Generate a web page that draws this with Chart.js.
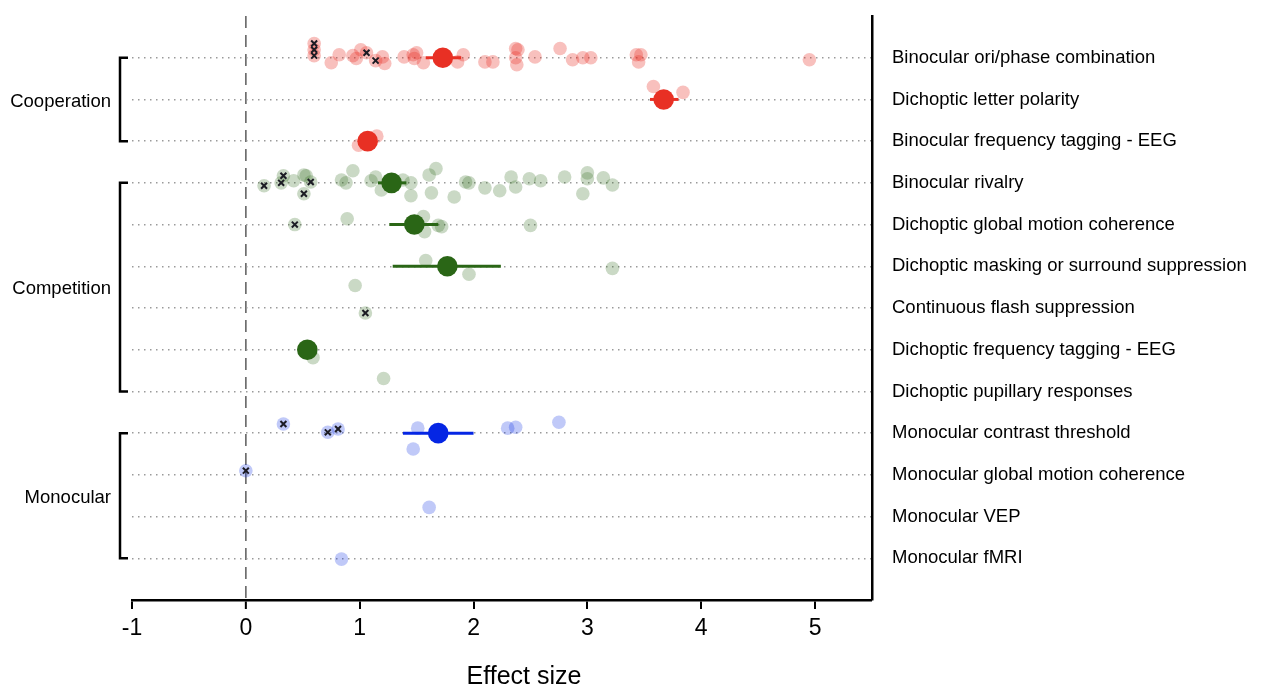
<!DOCTYPE html>
<html><head><meta charset="utf-8">
<script src="https://cdn.jsdelivr.net/npm/chart.js@4"></script>
<style>html,body{margin:0;padding:0;background:#fff}#wrap{width:1261px;height:686px;position:relative}</style>
</head><body><div id="wrap"><canvas id="c" width="1261" height="686"></canvas></div>
<script>
const rowLabels = [
  'Binocular ori/phase combination','Dichoptic letter polarity','Binocular frequency tagging - EEG',
  'Binocular rivalry','Dichoptic global motion coherence','Dichoptic masking or surround suppression',
  'Continuous flash suppression','Dichoptic frequency tagging - EEG','Dichoptic pupillary responses',
  'Monocular contrast threshold','Monocular global motion coherence','Monocular VEP','Monocular fMRI'
];
const groupNames = ['Cooperation','Competition','Monocular'];
const groupFirstRow = [0,3,9];
const groupLastRow = [2,8,12];
const xTicks = [-1,0,1,2,3,4,5];
const axisTitle = 'Effect size';

// Cooperation: individual studies (effect size, row position incl. jitter)
const coopX = [0.75,0.82,0.94,1.01,0.97,1.20,1.22,1.39,1.47,1.50,1.48,1.56,1.91,1.86,2.10,2.17,2.37,2.39,2.37,2.38,2.54,2.76,2.87,2.96,3.03,3.43,3.47,3.45,4.95,3.58,3.84,0.99,1.15];
const coopY = [0.12,-0.07,-0.05,-0.19,0.02,-0.02,0.14,-0.02,-0.07,-0.12,0.02,0.12,-0.07,0.10,0.10,0.10,-0.22,-0.19,0,0.17,-0.02,-0.22,0.05,0,0,-0.07,-0.07,0.10,0.05,0.69,0.83,2.10,1.88];
const coopFlagX = [0.60,0.60,0.60,1.06,1.14];
const coopFlagY = [-0.34,-0.19,-0.05,-0.12,0.07];
const coopMeanX = [1.73,3.67,1.07];
const coopMeanRow = [0,1,2];
const coopLo = [1.58,3.55,null];
const coopHi = [1.89,3.80,null];

// Competition
const compX = [0.42,0.51,0.53,0.84,0.88,0.94,1.10,1.14,1.19,1.38,1.45,1.45,1.61,1.67,1.63,1.83,1.93,1.96,2.10,2.23,2.33,2.37,2.49,2.59,2.80,3.00,3.00,2.96,3.14,3.22,0.89,1.56,1.57,1.69,1.72,2.50,1.58,1.96,3.22,0.96,0.52,0.59,1.21];
const compY = [2.95,2.81,2.83,2.93,3.00,2.71,2.95,2.86,3.17,2.93,3.00,3.31,2.81,2.66,3.24,3.34,2.98,3.00,3.12,3.19,2.86,3.10,2.90,2.95,2.86,2.76,2.90,3.26,2.88,3.05,3.86,3.81,4.17,4.02,4.05,4.02,4.86,5.19,5.05,5.46,7.00,7.19,7.69];
const compFlagX = [0.16,0.31,0.33,0.57,0.51,0.43,1.05];
const compFlagY = [3.07,3.00,2.83,2.98,3.26,4.00,6.12];
const compMeanX = [1.28,1.48,1.77,0.54];
const compMeanRow = [3,4,5,7];
const compLo = [1.16,1.26,1.29,null];
const compHi = [1.41,1.69,2.24,null];

// Monocular
const monoX = [1.51,1.47,2.30,2.37,2.75,1.61,0.84];
const monoY = [8.88,9.38,8.88,8.86,8.74,10.78,12.02];
const monoFlagX = [0.33,0.72,0.81,0.00];
const monoFlagY = [8.78,8.98,8.90,9.90];
const monoMeanX = [1.69];
const monoMeanRow = [9];
const monoLo = [1.38];
const monoHi = [2.00];

const FONT = '"Liberation Sans", Arial, Helvetica, sans-serif';

function pts(xs, ys){ return xs.map((x,i)=>({x:x, y:ys[i]})); }

function groupDatasets(name, rgb, light, X, Y, FX, FY, MX, MR, LO, HI){
  const ds = [];
  ds.push({label:name+' studies', type:'scatter', data: pts(X.concat(FX), Y.concat(FY)),
    pointRadius:6.8, pointBackgroundColor:'rgba('+rgb+','+light+')', pointBorderWidth:0, order:4});
  LO.forEach((lo,i)=>{
    if (lo === null) return;
    ds.push({label:name+' CI '+i, type:'line', data:[{x:lo,y:MR[i]},{x:HI[i],y:MR[i]}],
      borderColor:'rgb('+rgb+')', borderWidth:3, pointRadius:0, showLine:true, order:3});
  });
  ds.push({label:name+' mean', type:'scatter', data: pts(MX, MR),
    pointRadius:10.3, pointBackgroundColor:'rgb('+rgb+')', pointBorderWidth:0, order:2});
  ds.push({label:name+' flagged', type:'scatter', data: pts(FX, FY),
    pointStyle:'crossRot', pointRadius:4.2, pointBorderColor:'#1c1c24', pointBorderWidth:2, order:1});
  return ds;
}

const datasets = [].concat(
  groupDatasets('Cooperation','232,48,36',0.3,coopX,coopY,coopFlagX,coopFlagY,coopMeanX,coopMeanRow,coopLo,coopHi),
  groupDatasets('Competition','42,102,22',0.25,compX,compY,compFlagX,compFlagY,compMeanX,compMeanRow,compLo,compHi),
  groupDatasets('Monocular','5,38,228',0.25,monoX,monoY,monoFlagX,monoFlagY,monoMeanX,monoMeanRow,monoLo,monoHi)
);

const decor = {
  id:'decor',
  afterDraw(chart){
    const ctx = chart.ctx, ys = chart.scales.y;
    ctx.save();
    ctx.strokeStyle = '#000'; ctx.lineWidth = 2.5; ctx.lineCap = 'butt';
    ctx.fillStyle = '#000';
    ctx.font = '18.5px ' + FONT;
    ctx.textAlign = 'right'; ctx.textBaseline = 'middle';
    groupNames.forEach((g,i)=>{
      const y1 = ys.getPixelForValue(groupFirstRow[i]);
      const y2 = ys.getPixelForValue(groupLastRow[i]);
      const bx = 120, tx = 128;
      ctx.beginPath();
      ctx.moveTo(tx, y1); ctx.lineTo(bx, y1); ctx.lineTo(bx, y2); ctx.lineTo(tx, y2);
      ctx.stroke();
      ctx.fillText(g, 111, (y1+y2)/2 + 2);
    });
    ctx.font = '25px ' + FONT;
    ctx.textAlign = 'center'; ctx.textBaseline = 'alphabetic';
    ctx.fillText(axisTitle, 524, 684);
    ctx.restore();
  }
};

new Chart(document.getElementById('c'), {
  type:'scatter',
  data:{datasets},
  plugins:[decor],
  options:{
    responsive:false, animation:false,
    layout:{padding:{left:132, top:16, right:0, bottom:0}},
    plugins:{legend:{display:false}, tooltip:{enabled:false}},
    scales:{
      x:{
        type:'linear', min:-1, max:5.5,
        afterBuildTicks:(s)=>{ s.ticks = xTicks.map(v=>({value:v})); },
        afterFit:(s)=>{ s.height = 86; s.paddingLeft = 0; s.paddingRight = 0; },
        grid:{drawOnChartArea:true, color:(c)=> c.tick && c.tick.value===0 ? '#6e6e6e' : 'rgba(0,0,0,0)',
              lineWidth:(c)=> c.tick && c.tick.value===0 ? 1.7 : 0,
              tickColor:'#000', tickWidth:2, tickLength:9},
        border:{display:true, color:'#000', width:2.5, dash:[12,7]},
        ticks:{color:'#000', font:{family:FONT, size:23}, padding:6}
      },
      y:{
        type:'linear', position:'right', reverse:true, min:-1, max:13,
        afterBuildTicks:(s)=>{ s.ticks = rowLabels.map((_,i)=>({value:i})); },
        afterFit:(s)=>{ s.width = 389; s.paddingTop = 0; s.paddingBottom = 0; },
        grid:{drawOnChartArea:true, drawTicks:false, color:'#9a9a9a', lineWidth:1.5},
        border:{display:true, color:'#000', width:2.5, dash:[1.5,4.5]},
        ticks:{color:'#000', font:{family:FONT, size:18.5}, padding:20, callback:(v)=>rowLabels[v] ?? ''}
      }
    }
  }
});
</script></body></html>
